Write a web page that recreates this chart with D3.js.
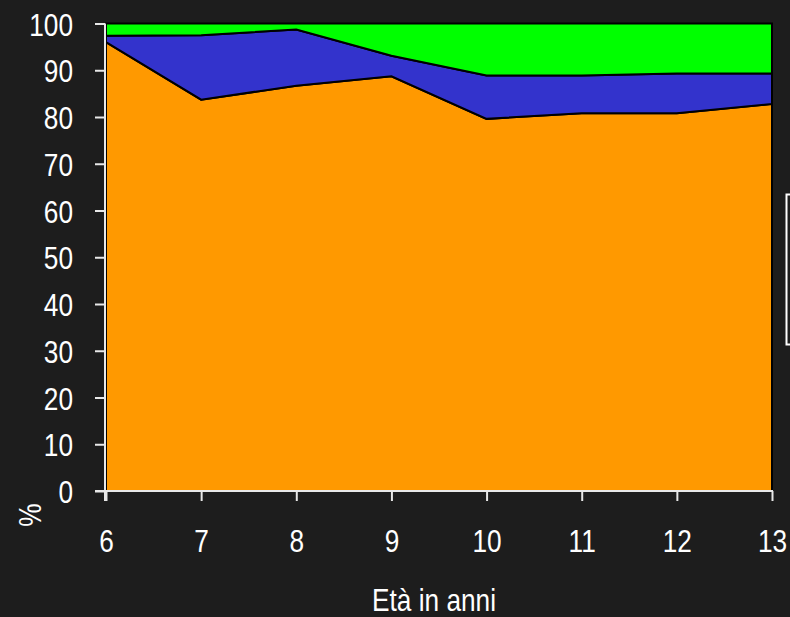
<!DOCTYPE html>
<html>
<head>
<meta charset="utf-8">
<script src="https://cdn.jsdelivr.net/npm/d3@7/dist/d3.min.js"></script>
<style>
  html, body { margin: 0; padding: 0; background: #1d1d1d; }
  svg { display: block; }
  text { font-family: "Liberation Sans", Arial, sans-serif; fill: #ffffff; }
</style>
</head>
<body>
<svg id="chart" width="790" height="617"></svg>
<script>
// Age in years (x axis)
const ages = [6, 7, 8, 9, 10, 11, 12, 13];
// Percentage shares per age, stacked bottom to top
const seriesOrange = [96.0, 83.7, 86.7, 88.7, 79.6, 80.8, 80.8, 82.8];
const seriesBlue   = [1.4, 13.8, 12.0, 4.4, 9.3, 8.1, 8.5, 6.5];
const seriesGreen  = [2.6, 2.5, 1.3, 6.9, 11.1, 11.1, 10.7, 10.7];
const yTicks = [0, 10, 20, 30, 40, 50, 60, 70, 80, 90, 100];
const keys = ["orange", "blue", "green"];
const colors = { orange: "#ff9900", blue: "#3333cc", green: "#00ff00" };

// Narrow lettering: regular sans squeezed horizontally
const NARROW = 0.82;

const rows = ages.map((a, i) => ({
  age: a, orange: seriesOrange[i], blue: seriesBlue[i], green: seriesGreen[i]
}));

const svg = d3.select("#chart");
const x = d3.scaleLinear().domain([6, 13]).range([106, 772]);
const y = d3.scaleLinear().domain([0, 100]).range([491, 23.5]);

const layers = d3.stack().keys(keys)(rows);

const area = d3.area()
  .x(d => x(d.data.age))
  .y0(d => y(d[0]))
  .y1(d => y(d[1]));

svg.append("g")
  .selectAll("path")
  .data(layers)
  .join("path")
  .attr("d", area)
  .attr("fill", d => colors[d.key])
  .attr("stroke", "#000")
  .attr("stroke-width", 2)
  .attr("stroke-linejoin", "miter");

// Axes
const yAxis = svg.append("g")
  .attr("transform", "translate(105,0)")
  .call(d3.axisLeft(y).tickValues(yTicks).tickFormat(d3.format("d"))
    .tickSize(10).tickSizeOuter(0).tickPadding(22));
const xAxis = svg.append("g")
  .attr("transform", "translate(0,491)")
  .call(d3.axisBottom(x).tickValues(ages).tickFormat(d3.format("d"))
    .tickSize(10).tickSizeOuter(0).tickPadding(28));

[yAxis, xAxis].forEach(g => {
  g.selectAll(".domain").attr("stroke", "#e8e8e8").attr("stroke-width", 2);
  g.selectAll(".tick line").attr("stroke", "#e8e8e8").attr("stroke-width", 2);
  g.selectAll(".tick text")
    .attr("fill", "#ffffff")
    .style("font-family", "'Liberation Sans', Arial, sans-serif")
    .style("font-size", "32px")
    .attr("transform", `scale(${NARROW},1)`);
});
yAxis.selectAll(".tick text").attr("dy", "0.36em").attr("x", -32 / NARROW);
// axis lines run slightly past each other at the origin
yAxis.select(".domain").attr("d", "M0,23.5V501");
xAxis.select(".domain").attr("d", "M95,0H773");

// Axis titles
svg.append("text")
  .attr("transform", `translate(434,611) scale(${NARROW},1)`)
  .attr("text-anchor", "middle")
  .style("font-size", "32px")
  .text("Età in anni");

svg.append("text")
  .attr("transform", `translate(41,515) rotate(-90) scale(${NARROW},1)`)
  .attr("text-anchor", "middle")
  .style("font-size", "32px")
  .text("%");

// Legend frame (extends past the right edge)
svg.append("rect")
  .attr("x", 786.5).attr("y", 194.5)
  .attr("width", 60).attr("height", 150)
  .attr("fill", "none")
  .attr("stroke", "#ffffff")
  .attr("stroke-width", 2);
</script>
</body>
</html>
